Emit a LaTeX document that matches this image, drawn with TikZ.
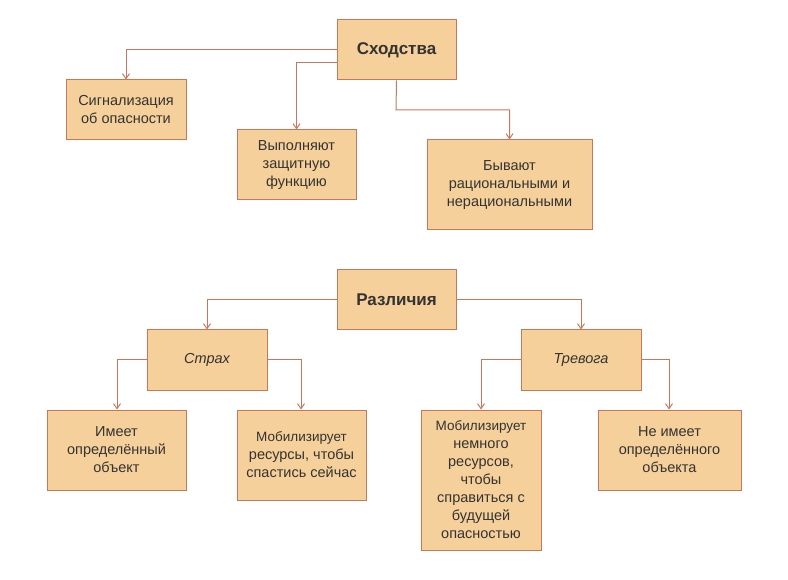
\documentclass[tikz,border=0pt]{standalone}
\usepackage{fontspec}
\setmainfont{Liberation Sans}
\usetikzlibrary{arrows.meta}
\definecolor{boxfill}{HTML}{F5D09A}
\definecolor{boxline}{HTML}{C8775A}
\definecolor{txt}{HTML}{333333}
\begin{document}
\begin{tikzpicture}[x=1pt,y=-1pt,
  bx/.style={draw=boxline,fill=boxfill,line width=1pt,inner sep=0pt,align=center,text=txt,font=\fontsize{14.5}{18}\selectfont},
  conn/.style={draw=boxline,line width=1pt,-{Straight Barb[length=5pt,width=7pt]}}]
\useasboundingbox (0,0) rectangle (788,580);
\newcommand{\bxat}[6]{\node[bx,minimum width=#4-#2,minimum height=#5-#3] (#1) at ({(#2+#4)/2},{(#3+#5)/2}) {#6};}
\bxat{s}{337}{20}{456}{80}{\fontsize{17}{20}\selectfont\bfseries Сходства}
\bxat{a}{66}{80}{186}{140}{Сигнализация\\об опасности}
\bxat{b}{237}{130}{356}{200}{Выполняют\\защитную\\функцию}
\bxat{c}{427}{140}{592}{230}{Бывают\\рациональными и\\нерациональными}
\bxat{r}{337}{270}{456}{330}{\fontsize{17}{20}\selectfont\bfseries Различия}
\bxat{f}{147}{330}{267}{390}{\itshape Страх}
\bxat{t}{521}{330}{641}{390}{\itshape Тревога}
\bxat{f1}{47}{410}{186}{490}{Имеет\\определённый\\объект}
\bxat{f2}{237}{410}{366}{500}{\fontsize{13.5}{17}\selectfont Мобилизирует\\ресурсы, чтобы\\спастись сейчас}
\bxat{t1}{421}{410}{541}{550}{\fontsize{13.5}{17}\selectfont Мобилизирует\\немного\\ресурсов,\\чтобы\\справиться с\\будущей\\опасностью}
\bxat{t2}{598}{410}{741}{490}{Не имеет\\определённого\\объекта}
\draw[conn] (s.west) -| (a.north);
\draw[conn] (s.west |- 0,63) -| (b.north);
\draw[conn] (s.south) -- (396,110) -| (c.north);
\draw[conn] (r.west) -| (f.north);
\draw[conn] (r.east) -| (t.north);
\draw[conn] (f.west) -| (f1.north -| 117,0);
\draw[conn] (f.east) -| (f2.north -| 301,0);
\draw[conn] (t.west) -| (t1.north);
\draw[conn] (t.east) -| (t2.north -| 669,0);
\end{tikzpicture}
\end{document}
